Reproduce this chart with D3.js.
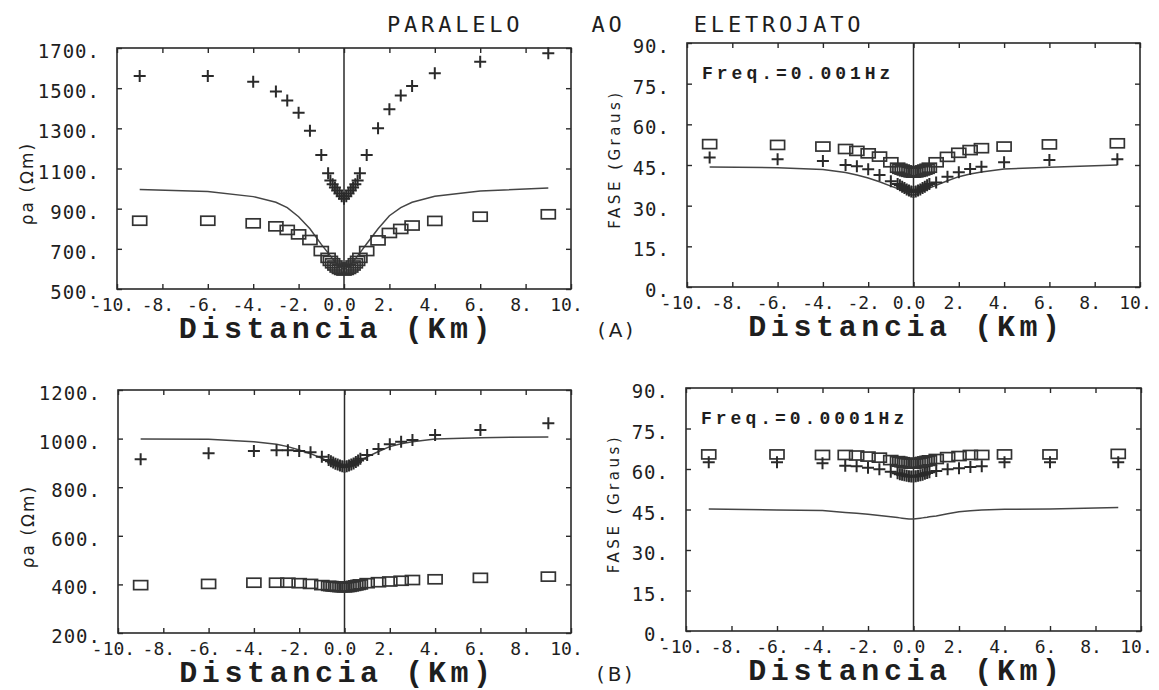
<!DOCTYPE html>
<html>
<head>
<meta charset="utf-8">
<script src="https://cdn.jsdelivr.net/npm/d3@7"></script>
<style>
  body { margin: 0; background: #fff; }
  svg text { fill: #1e1e1e; }
  .tick text { font-family: "DejaVu Sans Mono", monospace; font-size: 19px; }
  .xax .tick text { font-size: 18px; }
  .yax .tick text { letter-spacing: 1px; }
</style>
</head>
<body>
<div id="chart"></div>
<script>
// station distances (km) -- same profile for every panel
const stations = [-9,-6,-4,-3,-2.5,-2,-1.5,-1,-0.7,-0.6,-0.5,-0.4,-0.3,-0.2,-0.1,0,
  0.1,0.2,0.3,0.4,0.5,0.6,0.7,1,1.5,2,2.5,3,4,6,9];

// (A) Freq = 0.001 Hz
const rhoCrossA = [1561,1560,1532,1483,1438,1378,1288,1167,1076,1040,1022,1005,990,975,962,950,
  962,975,990,1005,1022,1040,1076,1167,1300,1395,1463,1511,1574,1632,1674];
const rhoBoxA = [840,840,827,812,794,772,744,689,655,640,628,617,607,600,595,592,
  595,600,607,617,628,640,655,689,742,779,799,816,839,860,872];
const rhoModelA = [995,985,960,932,905,860,800,722,680,665,650,636,623,612,605,602,
  605,612,623,636,650,665,680,725,800,865,905,932,962,988,1003];
const phaseBoxA = [52.7,52.4,51.8,50.9,50.2,49.3,48.1,46.0,44.0,43.6,43.3,43.0,42.7,42.5,42.3,42.2,
  42.3,42.5,42.7,43.0,43.3,43.6,44.0,46.0,48.0,49.5,50.5,51.2,51.8,52.6,53.0];
const phaseCrossA = [47.8,47.1,46.5,45.0,44.5,43.4,41.3,39.0,38.0,37.5,37.0,36.5,36.0,35.6,35.2,35.0,
  35.2,35.6,36.0,36.5,37.0,37.5,38.0,38.5,40.7,42.3,43.5,44.4,46.0,46.8,47.1];
const phaseModelA = [44.3,44.0,43.3,42.2,41.3,40.2,38.8,37.2,36.3,35.9,35.5,35.1,34.7,34.3,34.0,33.9,
  34.1,34.5,34.9,35.3,35.7,36.1,36.5,37.5,39.2,40.7,41.7,42.4,43.5,44.2,45.0];

// (B) Freq = 0.0001 Hz
const rhoCrossB = [915,940,949,952,952,949,944,925,912,907,902,897,893,889,886,884,
  886,889,893,898,904,910,917,932,957,977,987,994,1015,1035,1063];
const rhoBoxB = [397,402,407,407,407,405,402,397,394,393,392,391,390,389,389,388,
  389,390,392,394,396,398,400,405,409,412,415,418,421,427,432];
const rhoModelB = [998,997,987,977,967,953,938,919,905,900,896,892,888,885,882,880,
  883,887,891,896,901,906,911,925,947,967,979,987,998,1004,1007];
const phaseBoxB = [65.4,65.4,65.2,65.2,65.0,64.6,64.2,63.3,62.9,62.7,62.5,62.3,62.2,62.1,62.0,62.0,
  62.1,62.2,62.4,62.6,62.8,63.0,63.2,63.7,64.4,64.8,65.2,65.2,65.4,65.4,65.6];
const phaseCrossB = [62.5,62.5,62.1,61.2,61.0,60.5,59.9,59.0,58.4,58.1,57.9,57.7,57.5,57.3,57.2,57.2,
  57.3,57.5,57.7,57.9,58.2,58.5,58.8,59.3,59.9,60.3,60.7,61.0,62.5,62.5,62.5];
const phaseModelB = [45.2,44.8,44.6,43.9,43.6,43.2,42.8,42.3,42.0,41.9,41.8,41.7,41.6,41.5,41.5,41.5,
  41.6,41.7,41.8,41.9,42.0,42.1,42.3,42.6,43.4,44.2,44.5,44.8,45.1,45.2,45.7];

// ticks and labels
const xTicks = [-10,-8,-6,-4,-2,0,2,4,6,8,10];
const xTickLabels = ["-10.","-8.","-6.","-4.","-2.","0.0","2.","4.","6.","8.","10."];
const rhoTicksA = [500,700,900,1100,1300,1500,1700];
const rhoTicksB = [200,400,600,800,1000,1200];
const phaseTicks = [0,15,30,45,60,75,90];

const title = "PARALELO    AO    ELETROJATO";
const xTitle = "Distancia (Km)";
const rhoTitle = "\u03C1a (\u03A9m)";
const phaseTitle = "FASE (Graus)";

const W = 1159, H = 690;
const svg = d3.select("#chart").append("svg")
  .attr("width", W).attr("height", H)
  .style("background", "#fff");

const panels = [
  {box:[117,48,571,289], dom:[500,1700], ticks:rhoTicksA, cross:rhoCrossA, sq:rhoBoxA, model:rhoModelA, ytitle:rhoTitle, kind:"rho"},
  {box:[687,43,1140,287], dom:[0,90], ticks:phaseTicks, cross:phaseCrossA, sq:phaseBoxA, model:phaseModelA, ytitle:phaseTitle, kind:"phase", freq:"Freq.=0.001Hz", tag:"(A)"},
  {box:[118,390,571,633], dom:[200,1200], ticks:rhoTicksB, cross:rhoCrossB, sq:rhoBoxB, model:rhoModelB, ytitle:rhoTitle, kind:"rho"},
  {box:[686,388,1141,631], dom:[0,90], ticks:phaseTicks, cross:phaseCrossB, sq:phaseBoxB, model:phaseModelB, ytitle:phaseTitle, kind:"phase", freq:"Freq.=0.0001Hz", tag:"(B)"}
];

const ink = "#2a2a2a";

panels.forEach(function(p) {
  const [x0, y0, x1, y1] = p.box;
  const x = d3.scaleLinear().domain([-10, 10]).range([x0, x1]);
  const y = d3.scaleLinear().domain(p.dom).range([y1, y0]);
  const g = svg.append("g").attr("color", ink);

  // inward ticks on all four sides
  const bottom = g.append("g").attr("class", "xax")
    .attr("transform", "translate(0," + y1 + ")")
    .call(d3.axisBottom(x).tickValues(xTicks).tickSize(-5).tickPadding(9)
      .tickFormat((d, i) => xTickLabels[i]));
  bottom.selectAll("text").attr("dx", -5);
  g.append("g").attr("transform", "translate(0," + y0 + ")")
    .call(d3.axisTop(x).tickValues(xTicks).tickSize(-5).tickFormat(""));
  const left = g.append("g").attr("class", "yax")
    .attr("transform", "translate(" + x0 + ",0)")
    .call(d3.axisLeft(y).tickValues(p.ticks).tickSize(-5).tickPadding(17)
      .tickFormat(d => d + "."));
  left.selectAll("text").attr("dy", "0.5em");
  g.append("g").attr("transform", "translate(" + x1 + ",0)")
    .call(d3.axisRight(y).tickValues(p.ticks).tickSize(-5).tickFormat(""));
  g.selectAll(".domain").remove();
  g.selectAll(".tick line").attr("stroke-width", 1.4);

  // frame and zero line
  g.append("rect").attr("x", x0).attr("y", y0)
    .attr("width", x1 - x0).attr("height", y1 - y0)
    .attr("fill", "none").attr("stroke", ink).attr("stroke-width", 1.6);
  g.append("line").attr("x1", x(0)).attr("x2", x(0)).attr("y1", y0).attr("y2", y1)
    .attr("stroke", ink).attr("stroke-width", 1.5);

  // model curve
  const line = d3.line().x((d, i) => x(stations[i])).y(d => y(d));
  g.append("path").datum(p.model).attr("d", line)
    .attr("fill", "none").attr("stroke", "#454545").attr("stroke-width", 1.5);

  // squares
  g.append("g").selectAll("rect").data(p.sq).join("rect")
    .attr("x", (d, i) => x(stations[i]) - 7).attr("y", d => y(d) - 4.5)
    .attr("width", 14).attr("height", 9)
    .attr("fill", "none").attr("stroke", "#333").attr("stroke-width", 1.7);

  // crosses
  g.append("g").selectAll("path").data(p.cross).join("path")
    .attr("transform", (d, i) => "translate(" + x(stations[i]) + "," + y(d) + ")")
    .attr("d", "M-6,0H6M0,-6V6")
    .attr("stroke", "#2a2a2a").attr("stroke-width", 2);

  // axis titles
  svg.append("text")
    .attr("x", (x0 + x1) / 2 - 7).attr("y", y1 + 49)
    .attr("text-anchor", "middle")
    .style("font-family", "'Liberation Mono', monospace")
    .style("font-weight", "bold")
    .style("font-size", "30px").style("letter-spacing", "4.6px")
    .text(xTitle);

  const ty = p.kind === "rho" ? (y0 + y1) / 2 + 15 : (y0 + y1) / 2 - 6;
  const tx = p.kind === "rho" ? x0 - 90 : x0 - 72;
  svg.append("text")
    .attr("transform", "translate(" + tx + "," + ty + ") rotate(-90)")
    .attr("text-anchor", "middle").attr("dy", "0.35em")
    .style("font-family", "'DejaVu Sans', sans-serif")
    .style("font-size", p.kind === "rho" ? "17px" : "15px")
    .style("letter-spacing", p.kind === "rho" ? "2px" : "3.5px")
    .text(p.ytitle);

  if (p.freq) {
    svg.append("text").attr("x", x0 + 15).attr("y", y0 + 36)
      .style("font-family", "'Liberation Mono', monospace")
      .style("font-weight", "bold").style("font-size", "18px")
      .style("letter-spacing", "4px")
      .text(p.freq);
    svg.append("text").attr("x", x0 - 70).attr("y", y1 + 50)
      .attr("text-anchor", "middle")
      .style("font-family", "'DejaVu Sans', sans-serif")
      .style("font-size", "20px").style("letter-spacing", "3px")
      .text(p.tag);
  }
});

svg.append("text").attr("x", 387).attr("y", 32)
  .style("font-family", "'DejaVu Sans Mono', monospace")
  .style("font-size", "22px").style("letter-spacing", "3.8px")
  .style("white-space", "pre")
  .text(title);
</script>
</body>
</html>
